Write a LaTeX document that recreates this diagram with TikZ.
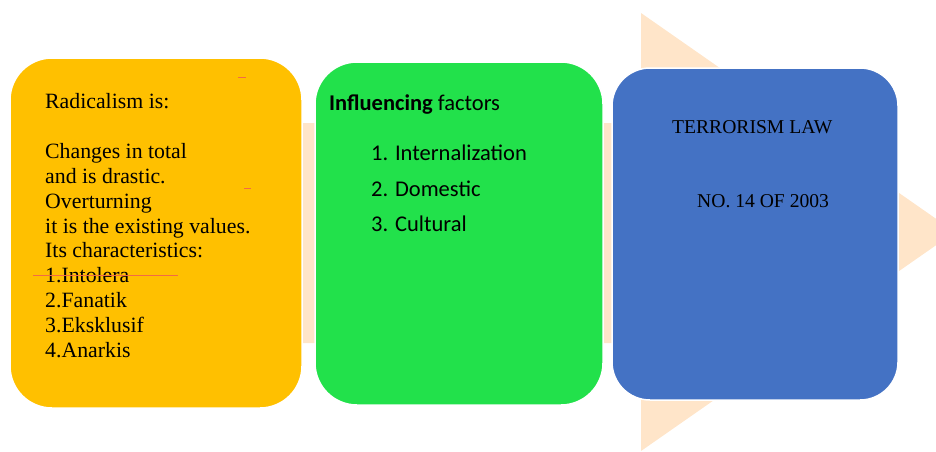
\documentclass[tikz,border=0pt]{standalone}
\usepackage{fontspec}
\setmainfont{Liberation Serif}
\newfontfamily\calib{Carlito}
\definecolor{peach}{HTML}{FFE5C9}
\definecolor{amber}{HTML}{FFC000}
\definecolor{leaf}{HTML}{22E14B}
\definecolor{steel}{HTML}{4472C4}
\definecolor{mark}{HTML}{F26B45}
\begin{document}
\begin{tikzpicture}[x=1pt,y=-1pt,
  card/.style={draw=white,line width=1.5pt,rounded corners=42pt,inner sep=0pt},
  serif/.style={font=\fontsize{21.8}{25}\selectfont,anchor=base west,inner sep=0pt},
  lawtxt/.style={font=\fontsize{19.6}{24}\selectfont,anchor=base west,inner sep=0pt},
  sans/.style={font=\calib\fontsize{22.5}{27}\selectfont,anchor=base west,inner sep=0pt},
  editmark/.style={draw=mark,line width=0.7pt}]
\useasboundingbox (0,0) rectangle (936,451);
% background process arrow
\fill[peach] (20,123) -- (641,123) -- (641,13) -- (955,232) -- (641,451) -- (641,343) -- (20,343) -- cycle;
% the three stage cards
\node[card,fill=amber,minimum width=292,minimum height=350] (radbox) at (156,233) {};
\node[card,fill=leaf,minimum width=288,minimum height=343] (factbox) at (459,233.5) {};
\node[card,fill=steel,minimum width=286,minimum height=332,rounded corners=38pt] (lawbox) at (755,234) {};
% first card: definition of radicalism
\node[serif] (r1) at (45,108.5) {Radicalism is:};
\node[serif] (r2) at (45,158.3) {Changes in total};
\node[serif] (r3) at (45,183.2) {and is drastic.};
\node[serif] (r4) at (45,208.1) {Overturning};
\node[serif] (r5) at (45,233) {it is the existing values.};
\node[serif] (r6) at (45,257.9) {Its characteristics:};
\node[serif] (r7) at (45,282.8) {1.Intolera};
\node[serif] (r8) at (45,307.7) {2.Fanatik};
\node[serif] (r9) at (45,332.6) {3.Eksklusif};
\node[serif] (r10) at (45,357.5) {4.Anarkis};
% small edit marks left in the first card
\draw[editmark] (238,77.5) -- (246,77.5);
\draw[editmark] (244,188.3) -- (251,188.3);
\draw[editmark] (33,275.3) -- (178,275.3);
% second card: influencing factors
\node[sans] (f0) at (329,110) {\textbf{Influencing} factors};
\node[sans] (f1) at (371,160) {1. Internalization};
\node[sans] (f2) at (371,196) {2. Domestic};
\node[sans] (f3) at (371,231) {3. Cultural};
% third card: the law
\node[lawtxt] (l1) at (672,133) {TERRORISM LAW};
\node[lawtxt] (l2) at (697,207) {NO. 14 OF 2003};
\end{tikzpicture}
\end{document}
